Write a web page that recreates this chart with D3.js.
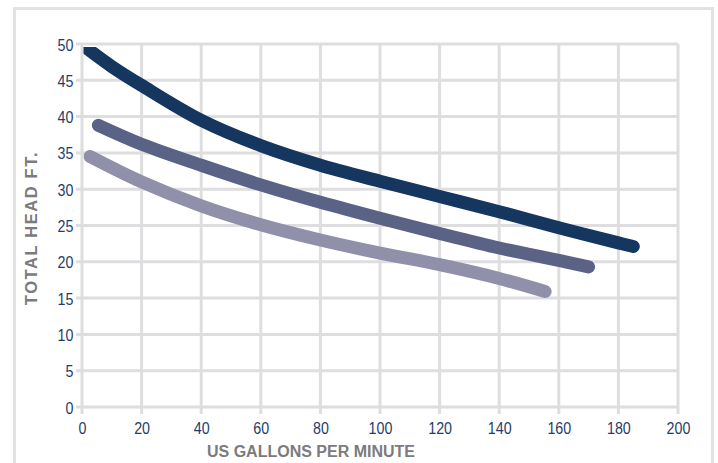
<!DOCTYPE html>
<html>
<head>
<meta charset="utf-8">
<script src="https://cdn.jsdelivr.net/npm/d3@7"></script>
<style>
  html, body { margin: 0; padding: 0; background: #ffffff; }
  svg { display: block; }
</style>
</head>
<body>
<svg id="chart" width="718" height="463"></svg>
<script>
// ---- data ----
const xTicks = [0, 20, 40, 60, 80, 100, 120, 140, 160, 180, 200];
const yTicks = [0, 5, 10, 15, 20, 25, 30, 35, 40, 45, 50];
const xTitle = "US GALLONS PER MINUTE";
const yTitle = "TOTAL HEAD FT.";

const seriesNames = ["large", "medium", "small"];
const seriesColors = ["#15365f", "#5a6385", "#9090aa"];

const largeFlow = [1, 10, 20, 40, 60, 80, 100, 120, 140, 160, 180, 185];
const largeHead = [49.6, 46.9, 44.3, 39.5, 36.0, 33.3, 31.1, 29.0, 26.9, 24.7, 22.6, 22.1];

const mediumFlow = [5.5, 20, 40, 60, 80, 100, 120, 140, 160, 170];
const mediumHead = [38.8, 36.2, 33.3, 30.6, 28.2, 26.0, 23.9, 21.9, 20.2, 19.3];

const smallFlow = [2.7, 20, 40, 60, 80, 100, 120, 140, 155.4];
const smallHead = [34.5, 31.0, 27.7, 25.1, 23.0, 21.2, 19.6, 17.7, 15.9];

// ---- layout ----
const svg = d3.select("#chart");
const plot = { left: 82, right: 678, top: 44, bottom: 407 };

const x = d3.scaleLinear().domain([0, 200]).range([plot.left, plot.right]);
const y = d3.scaleLinear().domain([0, 50]).range([plot.bottom, plot.top]);

const gridColor = "#dedee0";
const labelColor = "#1f3d6b";
const titleColor = "#7b7b7d";

// outer frame
svg.append("rect")
  .attr("x", 14.5).attr("y", 8.5)
  .attr("width", 698).attr("height", 480)
  .attr("fill", "none")
  .attr("stroke", "#e2e2e2")
  .attr("stroke-width", 3);

// vertical grid
svg.append("g")
  .selectAll("line")
  .data(xTicks)
  .join("line")
  .attr("x1", d => x(d)).attr("x2", d => x(d))
  .attr("y1", plot.top).attr("y2", plot.bottom + 7)
  .attr("stroke", gridColor).attr("stroke-width", 3);

// horizontal grid
svg.append("g")
  .selectAll("line")
  .data(yTicks)
  .join("line")
  .attr("x1", plot.left - 6).attr("x2", plot.right)
  .attr("y1", d => y(d)).attr("y2", d => y(d))
  .attr("stroke", gridColor).attr("stroke-width", 3);

// axes (labels only; lines handled as grid)
const sx = 0.84;
const yAxis = svg.append("g")
  .attr("transform", `translate(${plot.left},0)`)
  .call(d3.axisLeft(y).tickValues(yTicks).tickSize(0).tickPadding(0));
yAxis.select(".domain").remove();
yAxis.selectAll("text")
  .attr("x", null).attr("dy", null)
  .attr("transform", `translate(-8.5,6) scale(${sx},1)`)
  .attr("text-anchor", "end")
  .attr("fill", labelColor)
  .style("font-family", "'Liberation Sans', Arial, sans-serif")
  .style("font-size", "17px");

const xAxis = svg.append("g")
  .attr("transform", `translate(0,${plot.bottom})`)
  .call(d3.axisBottom(x).tickValues(xTicks).tickSize(0).tickPadding(0));
xAxis.select(".domain").remove();
xAxis.selectAll("text")
  .attr("y", null).attr("dy", null)
  .attr("transform", `translate(0,27) scale(${sx},1)`)
  .attr("text-anchor", "middle")
  .attr("fill", labelColor)
  .style("font-family", "'Liberation Sans', Arial, sans-serif")
  .style("font-size", "17px");

// clip
svg.append("clipPath").attr("id", "plotclip")
  .append("rect")
  .attr("x", plot.left + 1.5).attr("y", plot.top + 3)
  .attr("width", plot.right - plot.left).attr("height", plot.bottom - plot.top);

const line = d3.line()
  .x(d => x(d[0])).y(d => y(d[1]))
  .curve(d3.curveCatmullRom.alpha(0.5));

const series = [
  d3.zip(largeFlow, largeHead),
  d3.zip(mediumFlow, mediumHead),
  d3.zip(smallFlow, smallHead)
];

svg.append("g").attr("clip-path", "url(#plotclip)")
  .selectAll("path")
  .data(series)
  .join("path")
  .attr("d", line)
  .attr("fill", "none")
  .attr("stroke", (d, i) => seriesColors[i])
  .attr("stroke-width", 13)
  .attr("stroke-linecap", "round")
  .attr("stroke-linejoin", "round");

// titles
svg.append("text")
  .attr("x", 311).attr("y", 457)
  .attr("text-anchor", "middle")
  .attr("fill", titleColor)
  .style("font-family", "'Liberation Sans', Arial, sans-serif")
  .style("font-weight", "bold")
  .style("font-size", "16px")
  .text(xTitle);

svg.append("text")
  .attr("transform", "translate(37,228) rotate(-90)")
  .attr("text-anchor", "middle")
  .attr("fill", titleColor)
  .style("font-family", "'Liberation Sans', Arial, sans-serif")
  .style("font-weight", "bold")
  .style("font-size", "16.5px")
  .style("letter-spacing", "1.6px")
  .text(yTitle);
</script>
</body>
</html>
